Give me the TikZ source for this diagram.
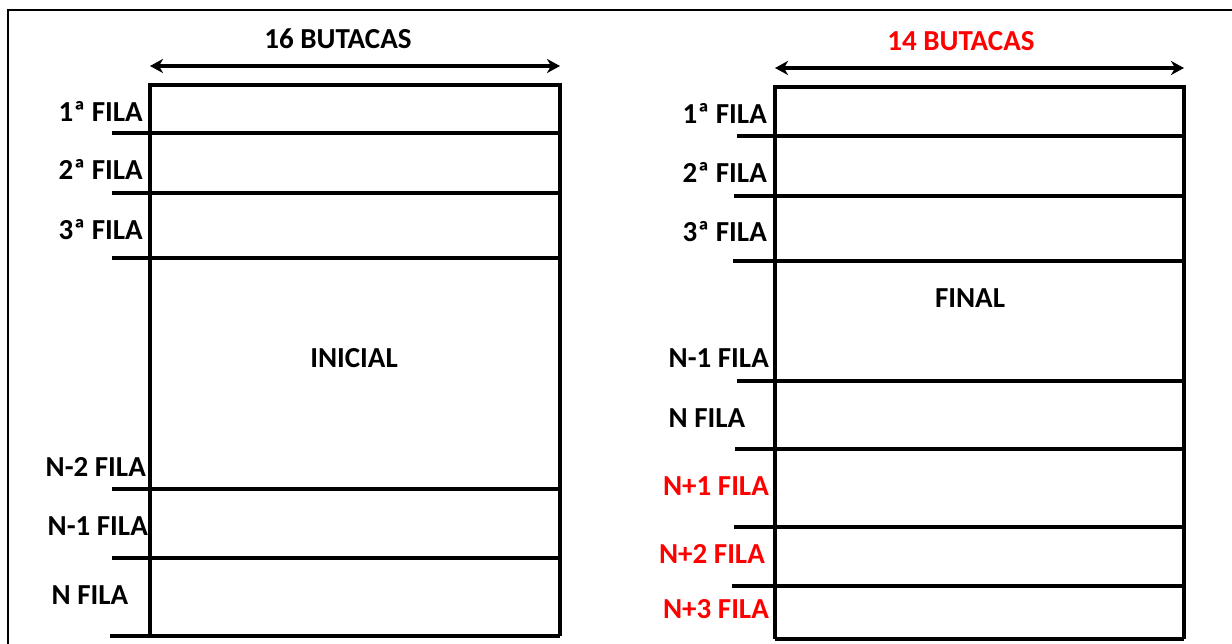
\documentclass[tikz,border=0pt]{standalone}
\usepackage{fontspec}
\setmainfont{Carlito}
\usetikzlibrary{arrows.meta}
\tikzset{
  heavy/.style={line width=4pt},
  frame/.style={line width=2pt},
  lbl/.style={font=\fontsize{29}{34}\selectfont\bfseries, inner sep=0pt, anchor=base east},
  lblc/.style={font=\fontsize{29}{34}\selectfont\bfseries, inner sep=0pt, anchor=base},
  redtxt/.style={text=red},
  dimarrow/.style={line width=4pt, {Stealth[length=13pt,width=14pt,inset=4pt]}-{Stealth[length=13pt,width=14pt,inset=4pt]}}
}
\begin{document}
\begin{tikzpicture}[x=1pt,y=-1pt]
\useasboundingbox (0,0) rectangle (1232,644);
% outer frame (top and left visible)
\draw[frame] (8,650) -- (8,10) -- (1240,10);

% ---------- left (INICIAL) ----------
\coordinate (la) at (150,66);
\coordinate (lb) at (560,66);
\draw[dimarrow] (la) -- (lb);
\node[lblc] (t16) at (338,49) {16 BUTACAS};
\draw[heavy] (150,636) -- (150,85) -- (560,85) -- (560,636);
\foreach \y/\xs in {133/112,193/112,258/112,489/112,558/112,636/110}
  \draw[heavy] (\xs,\y) -- (560,\y);
\node[lbl] (l1) at (143,122) {1ª FILA};
\node[lbl] (l2) at (143,180) {2ª FILA};
\node[lbl] (l3) at (143,240) {3ª FILA};
\node[lblc] (ini) at (354,367) {INICIAL};
\node[lbl] (ln2) at (146,476) {N-2 FILA};
\node[lbl] (ln1) at (148,535) {N-1 FILA};
\node[lblc] (ln) at (90,604) {N FILA};

% ---------- right (FINAL) ----------
\coordinate (ra) at (775,68);
\coordinate (rb) at (1184,68);
\draw[dimarrow] (ra) -- (rb);
\node[lblc, redtxt] (t14) at (961,51) {14 BUTACAS};
\draw[heavy] (775,639) -- (775,87) -- (1184,87) -- (1184,639);
\foreach \y/\xs in {136/737,196/734,261/733,381/737,449/735,527/734,586/732,639/775}
  \draw[heavy] (\xs,\y) -- (1184,\y);
\node[lbl] (r1) at (767,124) {1ª FILA};
\node[lbl] (r2) at (767,183) {2ª FILA};
\node[lbl] (r3) at (767,242) {3ª FILA};
\node[lblc] (fin) at (970,308) {FINAL};
\node[lbl] (rn1) at (769,367) {N-1 FILA};
\node[lblc] (rn) at (707,427) {N FILA};
\node[lbl, redtxt] (rp1) at (769,495) {N+1 FILA};
\node[lbl, redtxt] (rp2) at (765,563) {N+2 FILA};
\node[lbl, redtxt] (rp3) at (769,618) {N+3 FILA};
\end{tikzpicture}
\end{document}
